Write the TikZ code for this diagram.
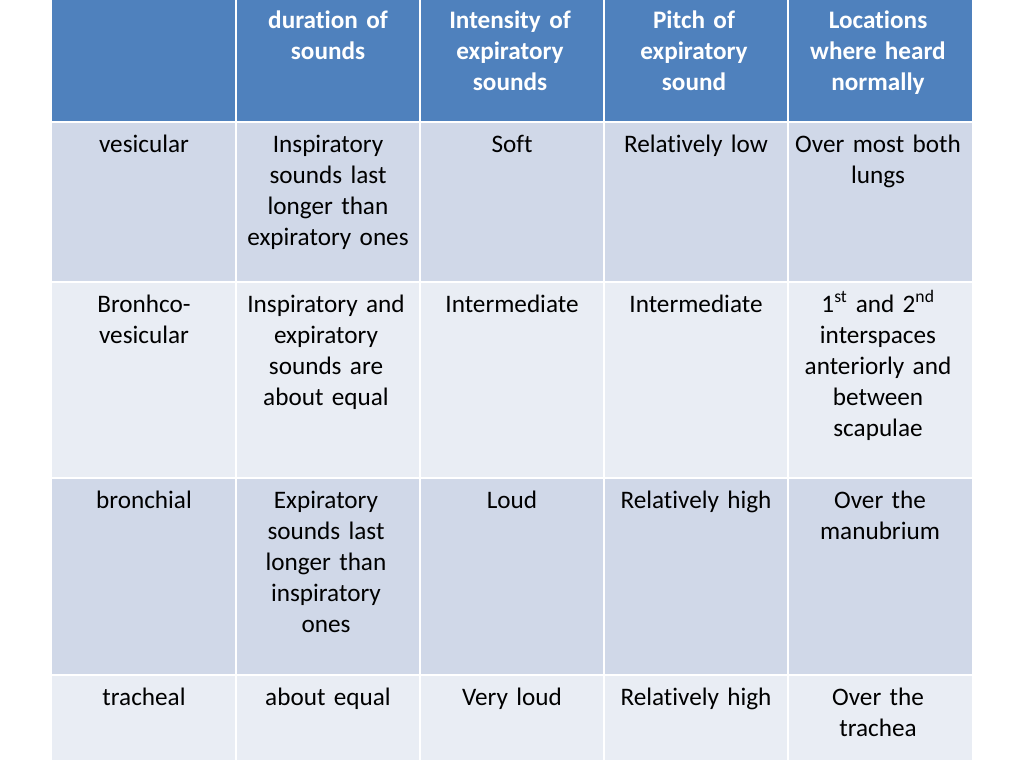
\documentclass[tikz,border=0pt]{standalone}
\usepackage{fontspec}
\setmainfont{Carlito}[Ligatures={NoCommon}]
\definecolor{hdr}{HTML}{4F81BD}
\definecolor{rowdark}{HTML}{D0D8E8}
\definecolor{rowlight}{HTML}{E9EDF4}
\begin{document}
\begin{tikzpicture}[x=1pt,y=-1pt,
  cell/.style={anchor=base,inner sep=0pt,text width=180pt,align=center,font=\fontsize{25.2}{31}\selectfont},
  hcell/.style={cell,text=white,font=\fontsize{25.2}{31}\selectfont\bfseries},
  sep/.style={draw=white,line width=2pt}]
\useasboundingbox (0,0) rectangle (1024,768);
\fill[white] (0,0) rectangle (1024,768);
% backgrounds
\fill[hdr] (52,0) rectangle (972,122);
\fill[rowdark] (52,122) rectangle (972,282);
\fill[rowlight] (52,282) rectangle (972,478);
\fill[rowdark] (52,478) rectangle (972,675);
\fill[rowlight] (52,675) rectangle (972,760);
% separators
\foreach \y in {122,282,478,675} \draw[sep] (52,\y) -- (972,\y);
\foreach \x in {236,420,604,788} \draw[sep] (\x,0) -- (\x,760);
% header
\node[hcell] (h2) at (328,29) {duration of\\sounds};
\node[hcell] (h3) at (510,29) {Intensity of\\expiratory\\sounds};
\node[hcell] (h4) at (694,29) {Pitch of\\expiratory\\sound};
\node[hcell] (h5) at (878,29) {Locations\\where heard\\normally};
% row 1
\node[cell] (a1) at (144,152) {vesicular};
\node[cell] (a2) at (328,152) {Inspiratory\\sounds last\\longer than\\expiratory ones};
\node[cell] (a3) at (512,152) {Soft};
\node[cell] (a4) at (696,152) {Relatively low};
\node[cell] (a5) at (878,152) {Over most both\\lungs};
% row 2
\node[cell] (b1) at (144,312) {Bronhco-\\vesicular};
\node[cell] (b2) at (326,312) {Inspiratory and\\expiratory\\sounds are\\about equal};
\node[cell] (b3) at (512,312) {Intermediate};
\node[cell] (b4) at (696,312) {Intermediate};
\node[cell] (b5) at (878,312) {1\textsuperscript{st} and 2\textsuperscript{nd}\\interspaces\\anteriorly and\\between\\scapulae};
% row 3
\node[cell] (c1) at (144,508) {bronchial};
\node[cell] (c2) at (326,508) {Expiratory\\sounds last\\longer than\\inspiratory\\ones};
\node[cell] (c3) at (512,508) {Loud};
\node[cell] (c4) at (696,508) {Relatively high};
\node[cell] (c5) at (880,508) {Over the\\manubrium};
% row 4
\node[cell] (d1) at (144,705) {tracheal};
\node[cell] (d2) at (328,705) {about equal};
\node[cell] (d3) at (512,705) {Very loud};
\node[cell] (d4) at (696,705) {Relatively high};
\node[cell] (d5) at (878,705) {Over the\\trachea};
\end{tikzpicture}
\end{document}
